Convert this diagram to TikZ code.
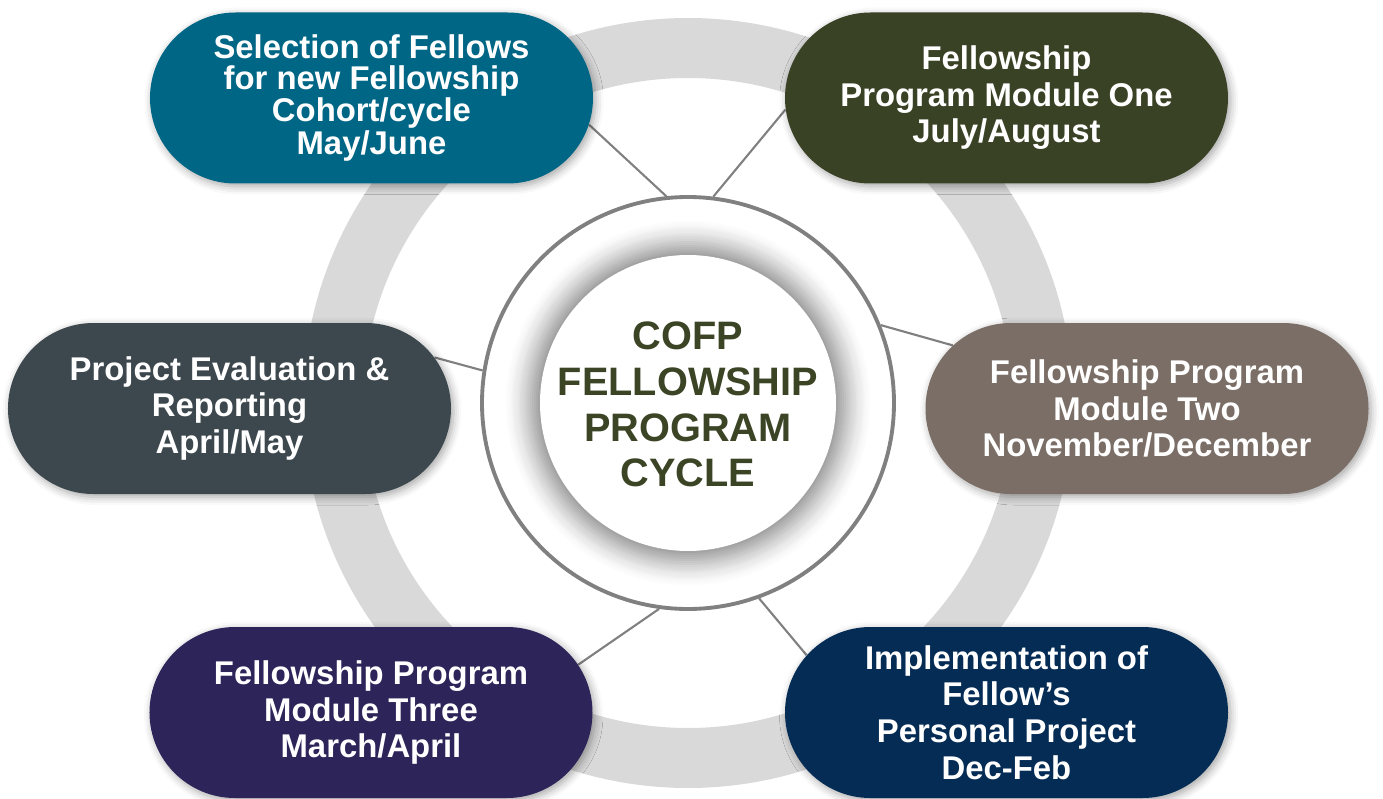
\documentclass[tikz,border=0pt]{standalone}
\usepackage{fontspec}
\setmainfont{Liberation Sans}
\usetikzlibrary{shapes.misc,shadows.blur,backgrounds}

\definecolor{selteal}{HTML}{006685}
\definecolor{modolive}{HTML}{3A4226}
\definecolor{modtaupe}{HTML}{7B6E66}
\definecolor{implnavy}{HTML}{052C55}
\definecolor{modpurple}{HTML}{2D2459}
\definecolor{evalslate}{HTML}{3C474E}
\definecolor{cycletext}{HTML}{3B4425}
\definecolor{ringgray}{HTML}{D9D9D9}
\definecolor{linkgray}{HTML}{808080}

\begin{document}
\begin{tikzpicture}[%
            pill/.style={rounded rectangle, minimum width=8.86cm,
                minimum height=3.42cm, inner sep=0pt, text=white,
                align=center, font=\bfseries\fontsize{18.7}{20.8}\selectfont,
                blur shadow={shadow xshift=0.5mm, shadow yshift=-0.6mm,
                    shadow blur radius=1.6mm, shadow opacity=35}},
            link/.style={draw=linkgray, line width=1.2pt}
    ]
    \useasboundingbox (-13.76,-7.90) rectangle (13.90,8.06);

    % hub in the middle
    \node [circle, draw=linkgray, line width=2.2pt, fill=white,
           minimum size=8.24cm, inner sep=0pt] (hub) at (0,0) {};
    \foreach \i in {0,...,19} {
        \pgfmathsetmacro\rr{3.72-0.04*\i}
        \pgfmathtruncatemacro\shade{40*(\i/19)^1.5}
        \fill [black!\shade] (hub.center) circle (\rr cm);
    }
    \fill [white] (hub.center) circle (2.96cm);
    \node [text=cycletext, align=center,
           font=\bfseries\fontsize{22.6}{26}\selectfont] (title) at (0,-0.03)
        {COFP\\FELLOWSHIP\\PROGRAM\\CYCLE};

    % the six stages
    \node [pill, fill=selteal, font=\bfseries\fontsize{18.7}{17.4}\selectfont]
        (sel) at (-6.33,6.10)
        {Selection of Fellows\\for new Fellowship\\Cohort/cycle\\May/June};
    \node [pill, fill=modolive] (one) at (6.37,6.10)
        {Fellowship\\Program Module One\\July/August};
    \node [pill, fill=modtaupe] (two) at (9.18,-0.11)
        {Fellowship Program\\Module Two\\November/December};
    \node [pill, fill=implnavy, font=\bfseries\fontsize{18.7}{20.8}\selectfont]
        (impl) at (6.37,-6.19)
        {Implementation of\\Fellow’s\\Personal Project\\Dec-Feb};
    \node [pill, fill=modpurple] (three) at (-6.34,-6.19)
        {Fellowship Program\\Module Three\\March/April};
    \node [pill, fill=evalslate] (eval) at (-9.17,-0.11)
        {Project Evaluation \&\\Reporting\\April/May};

    \begin{pgfonlayer}{background}
        \draw [ringgray, line width=1.2cm] (0,0) circle (7.1cm);
        \foreach \a/\p/\b in
            {96/sel/-7, 83/one/183, 22/two/162,
             -70/impl/164, -98/three/13, 171/eval/14}
            \draw [link] (hub.\a) -- (\p.\b);
    \end{pgfonlayer}
\end{tikzpicture}
\end{document}
